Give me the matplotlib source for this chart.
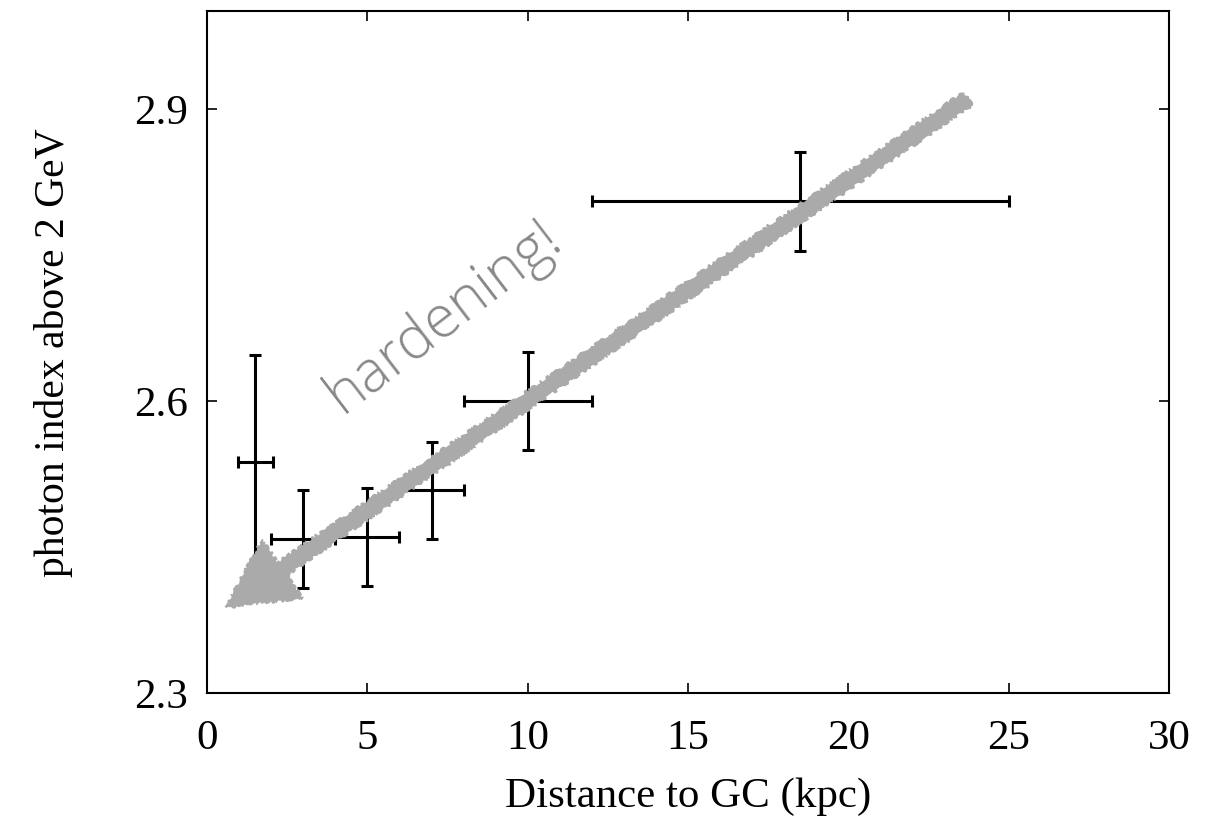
import matplotlib
matplotlib.use("Agg")
import matplotlib.pyplot as plt
from matplotlib.patches import FancyArrowPatch

# binned photon index vs galactocentric distance
distance = [1.5, 3.0, 5.0, 7.0, 10.0, 18.5]
dist_err = [0.55, 1.0, 1.0, 1.0, 2.0, 6.5]
index = [2.537, 2.458, 2.46, 2.508, 2.60, 2.805]
index_err = [0.11, 0.05, 0.05, 0.05, 0.05, 0.051]

# trend arrow (tail -> tip) and its label
arrow_tail = (23.8, 2.912)
arrow_tip = (0.5, 2.386)
label_pos = (7.4, 2.687)

plt.rcParams['font.family'] = ['Liberation Serif', 'DejaVu Serif']

fig = plt.figure(figsize=(12.22, 8.19), dpi=100)
ax = fig.add_axes([0.1695, 0.154, 0.787, 0.832])

ax.errorbar(distance, index, xerr=dist_err, yerr=index_err, fmt='none',
            ecolor='black', elinewidth=2.2, capsize=4, capthick=2.2, zorder=2)

arrow = FancyArrowPatch(arrow_tail, arrow_tip,
                        arrowstyle='simple,head_length=3.3,head_width=3.4,tail_width=0.75',
                        mutation_scale=15, color='#aaaaaa', lw=1.0, zorder=3)
arrow.set_sketch_params(scale=1.5, length=10, randomness=20)
ax.add_patch(arrow)

ax.text(label_pos[0], label_pos[1], 'hardening!', rotation=37.5, color='#888888',
        fontsize=42, family=['Open Sans', 'DejaVu Sans'], fontweight='light',
        ha='center', va='center', rotation_mode='anchor', zorder=4)

ax.set_xlim(0, 30)
ax.set_ylim(2.3, 3.0)
ax.set_xticks([0, 5, 10, 15, 20, 25, 30])
ax.set_yticks([2.3, 2.6, 2.9])
ax.set_yticklabels(['2.3', '2.6', '2.9'])
ax.tick_params(direction='in', length=7, width=1.2, top=True, right=True,
               labelsize=31)
ax.tick_params(axis='x', pad=19)
ax.tick_params(axis='y', pad=14)
for s in ax.spines.values():
    s.set_linewidth(1.5)

ax.set_xlabel('Distance to GC (kpc)', fontsize=31, labelpad=14)
ax.set_ylabel('photon index above 2 GeV', fontsize=30, labelpad=44)

fig.savefig('out.png', dpi=100)
